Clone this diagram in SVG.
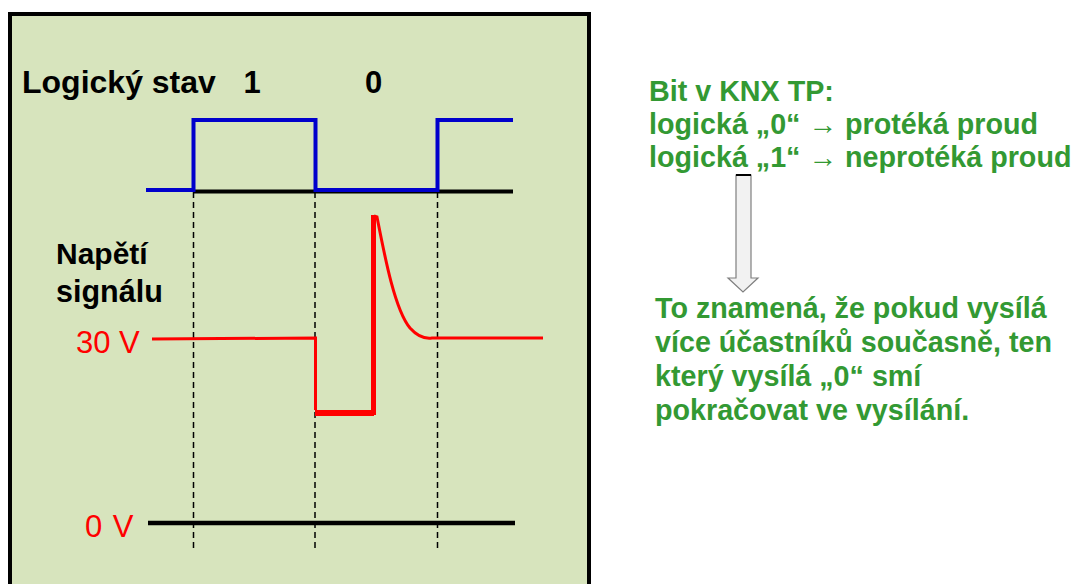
<svg xmlns="http://www.w3.org/2000/svg" width="1072" height="584" viewBox="0 0 1072 584">
  <defs>
    <style>
      .lbl { font-family: "Liberation Sans", Arial, sans-serif; font-weight: bold; fill: #000; }
      .volt { font-family: "Liberation Sans", Arial, sans-serif; fill: #ff0000; }
      .note { font-family: "Liberation Sans", Arial, sans-serif; font-weight: bold; font-size: 28.7px; fill: #339933; }
      .arr { font-weight: normal; }
      .guide { stroke: #000; stroke-width: 1.5; stroke-dasharray: 6 4; fill: none; }
      .sig { fill: none; stroke: #ff0000; stroke-linejoin: miter; }
    </style>
  </defs>

  <rect width="1072" height="584" fill="#ffffff"/>

  <!-- timing chart panel -->
  <g id="panel">
    <rect x="10" y="14" width="579" height="600" fill="#d7e4bd" stroke="#000" stroke-width="4"/>
  </g>

  <g id="labels">
    <text class="lbl" x="22" y="93" font-size="32">Logický stav</text>
    <text class="lbl" x="252" y="93" font-size="31" text-anchor="middle">1</text>
    <text class="lbl" x="373.5" y="93" font-size="31" text-anchor="middle">0</text>
    <text class="lbl" x="56" y="264" font-size="30">Napětí</text>
    <text class="lbl" x="56" y="302" font-size="30.5">signálu</text>
    <text class="volt" x="76" y="353" font-size="31">30 V</text>
    <text class="volt" x="85" y="537" font-size="31" letter-spacing="1">0 V</text>
  </g>

  <g id="connectors">
    <!-- bit boundaries -->
    <line class="guide" x1="193.5" y1="192" x2="193.5" y2="548"/>
    <line class="guide" x1="315" y1="192" x2="315" y2="548" stroke="#444" stroke-width="1.2"/>
    <line class="guide" x1="437.5" y1="192" x2="437.5" y2="548"/>

    <!-- logic level baseline and waveform -->
    <line x1="193" y1="191.5" x2="513" y2="191.5" stroke="#000" stroke-width="4"/>
    <polyline points="146,190 193.5,190 193.5,120 315.5,120 315.5,190 437.5,190 437.5,120 513,120" fill="none" stroke="#0000cc" stroke-width="4"/>

    <!-- bus voltage -->
    <path class="sig" stroke-width="3" d="M152 339 L315.5 338 L315.5 410"/>
    <path class="sig" stroke-width="6" d="M315 413 L374 413"/>
    <path class="sig" stroke-width="5" d="M373.5 415 L373.5 215"/>
    <path class="sig" stroke-width="3" d="M374 216 L377 217 C385 258 395 310 410 328 C418 337 425 339 432 338 L543 338"/>

    <!-- 0 V reference -->
    <line x1="148" y1="523" x2="515" y2="523" stroke="#000" stroke-width="4.5"/>
  </g>

  <!-- explanation notes -->
  <g id="bit-note">
    <text class="note" x="649" y="101">Bit v KNX TP:</text>
    <text class="note" x="649" y="134">logická „0“ <tspan class="arr">→</tspan> protéká proud</text>
    <text class="note" x="649" y="167">logická „1“ <tspan class="arr">→</tspan> neprotéká proud</text>
  </g>

  <g id="down-arrow">
    <polygon points="736,175 751,175 751,278 758,278 743,292 728,278 736,278" fill="#f2f2f2" stroke="#7f7f7f" stroke-width="1.2"/>
    <line x1="736" y1="175" x2="751" y2="175" stroke="#000" stroke-width="2"/>
  </g>

  <g id="result-note">
    <text class="note" x="655" y="318">To znamená, že pokud vysílá</text>
    <text class="note" x="655" y="352">více účastníků současně, ten</text>
    <text class="note" x="655" y="386">který vysílá „0“ smí</text>
    <text class="note" x="655" y="420">pokračovat ve vysílání.</text>
  </g>
</svg>
